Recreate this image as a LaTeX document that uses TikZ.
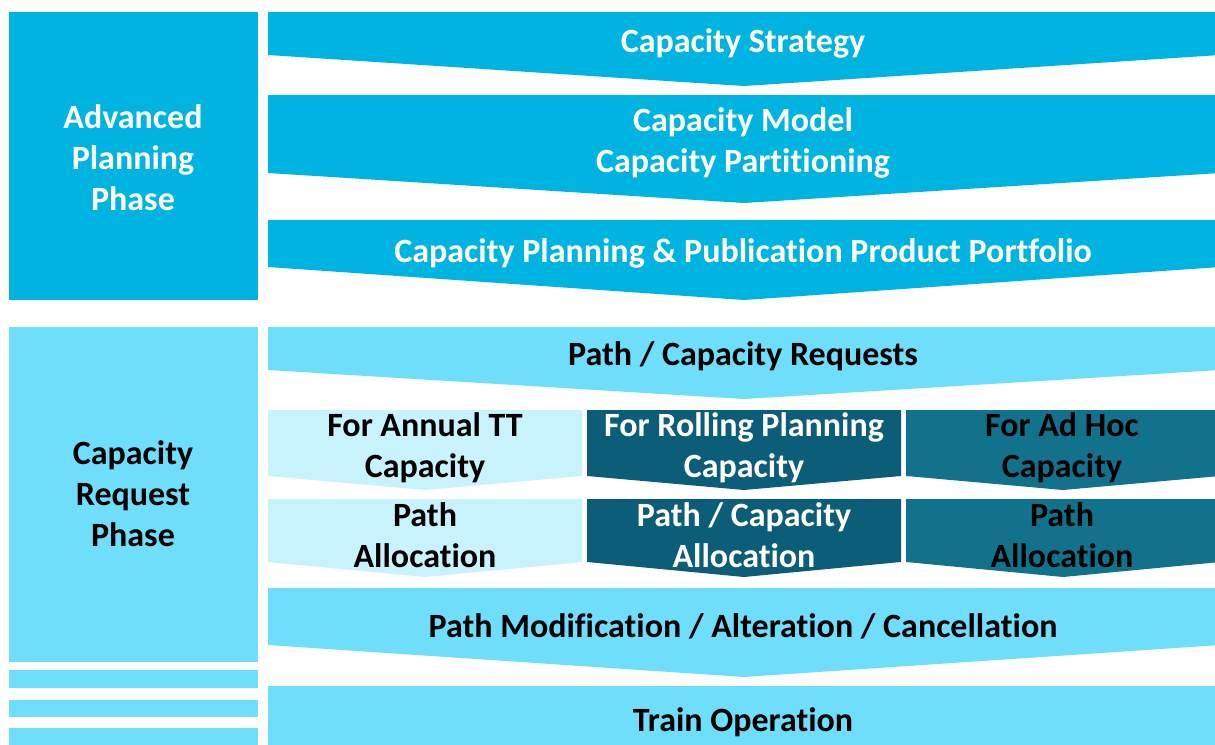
\documentclass[tikz,border=0pt]{standalone}
\usepackage{fontspec}
\setmainfont{Carlito}[Ligatures=NoCommon]
\usepackage{tikz}

\definecolor{deepband}{RGB}{0,180,225}
\definecolor{lightband}{RGB}{110,222,250}
\definecolor{paleband}{RGB}{200,242,252}
\definecolor{tealband}{RGB}{12,94,120}
\definecolor{midteal}{RGB}{18,114,140}

% chevron: left x, right x, top y, side y, tip y, colour
\newcommand{\chev}[6]{\fill[#6] (#1,#3) -- (#2,#3) -- (#2,#4) -- ({(#1+#2)/2},#5) -- (#1,#4) -- cycle;}

\begin{document}
\begin{tikzpicture}[x=1pt, y=-1pt]
	\tikzstyle{every node} = [align=center, font=\fontsize{34}{41}\selectfont\bfseries, inner sep=0pt]
	\tikzstyle{white text} = [text=white]
	\clip (0,0) rectangle (1215,744);
	\fill[white] (0,0) rectangle (1215,744);
	\fill[deepband] (9,12) rectangle (258,300);
	\fill[lightband] (9,327) rectangle (258,662);
	\fill[lightband] (9,670) rectangle (258,688);
	\fill[lightband] (9,700) rectangle (258,717);
	\fill[lightband] (9,728) rectangle (258,760);
	\chev{268}{1220}{12}{55}{86}{deepband}
	\chev{268}{1220}{95}{173}{203}{deepband}
	\chev{268}{1220}{220}{267}{300}{deepband}
	\chev{268}{1220}{327}{370}{399}{lightband}
	\chev{268}{582}{410}{476}{490}{paleband}
	\chev{587}{901}{410}{476}{490}{tealband}
	\chev{906}{1220}{410}{476}{490}{midteal}
	\chev{268}{582}{499}{562}{577}{paleband}
	\chev{587}{901}{499}{562}{577}{tealband}
	\chev{906}{1220}{499}{562}{577}{midteal}
	\chev{268}{1220}{588}{645}{677}{lightband}
	\fill[lightband] (268,686) rectangle (1220,760);
	\node[white text] (advanced) at (133, 158) {Advanced\\Planning\\Phase};
	\node (request) at (133, 494) {Capacity\\Request\\Phase};
	\node[white text] (strategy) at (743, 43) {Capacity Strategy};
	\node[white text] (model) at (743, 143) {Capacity Model\\Capacity Partitioning};
	\node[white text] (portfolio) at (743, 253) {Capacity Planning \& Publication Product Portfolio};
	\node (requests) at (743, 356) {Path / Capacity Requests};
	\node (annual) at (425, 448) {For Annual TT\\Capacity};
	\node[white text] (rolling) at (744, 448) {For Rolling Planning\\Capacity};
	\node (adhoc) at (1062, 448) {For Ad Hoc\\Capacity};
	\node (pathannual) at (425, 535) {Path\\Allocation};
	\node[white text] (pathrolling) at (744, 535) {Path / Capacity\\Allocation};
	\node (pathadhoc) at (1062, 535) {Path\\Allocation};
	\node (modification) at (743, 626) {Path Modification / Alteration / Cancellation};
	\node (operation) at (743, 722) {Train Operation};
\end{tikzpicture}
\end{document}
